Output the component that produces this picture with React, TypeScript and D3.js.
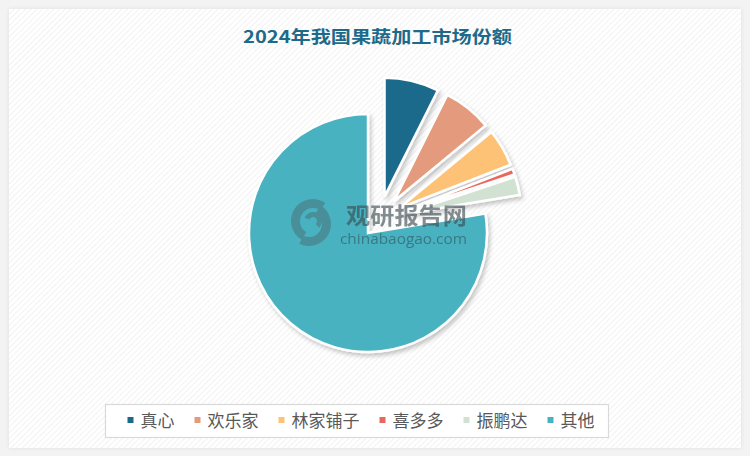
import React from 'react';
import * as d3 from 'd3';

const names = ['真心', '欢乐家', '林家铺子', '喜多多', '振鹏达', '其他'];
const shares = [7.4, 6.6, 5.1, 0.8, 2.5, 77.6];
const colors = ['#1b6a8b', '#e49a7b', '#fec277', '#e8695b', '#d2e2d2', '#49b2c0'];
const explode = [24, 24, 24, 24, 24, 17];
const title = '2024年我国果蔬加工市场份额';

const W = 750;
const H = 456;
const FONT = '"Noto Sans CJK SC", "Noto Sans", sans-serif';

export default function App() {
  const cx = 379;
  const cy = 220;
  const r = 119;
  const pie = d3.pie<number>().sort(null).value((d) => d)(shares);
  const arc = d3.arc<d3.PieArcDatum<number>>().innerRadius(0).outerRadius(r);

  // legend layout
  const fs = 17;
  const sq = 6;
  const gapSq = 7;
  const gapItem = 20;
  const widths = names.map((n) => sq + gapSq + n.length * fs);
  const total = widths.reduce((a, b) => a + b, 0) + gapItem * (names.length - 1);
  let lx = 361 - total / 2;
  const legendItems = names.map((n, i) => {
    const x = lx;
    lx += widths[i] + gapItem;
    return { n, x, c: colors[i] };
  });

  const logoArc = d3.arc<any>();

  return (
    <svg
      width={W}
      height={H}
      style={{ position: 'absolute', left: 0, top: 0, display: 'block' }}
      xmlns="http://www.w3.org/2000/svg"
    >
      <defs>
        <pattern id="hatch" width="4" height="4" patternUnits="userSpaceOnUse" patternTransform="rotate(45)">
          <rect width="4" height="4" fill="#ffffff" />
          <line x1="0" y1="0" x2="0" y2="4" stroke="#ededed" strokeWidth="1.4" />
        </pattern>
        <filter id="shadow" x="-20%" y="-20%" width="140%" height="140%">
          <feDropShadow dx="2" dy="3" stdDeviation="2" floodColor="#000" floodOpacity="0.22" />
        </filter>
        <filter id="panelShadow" x="-5%" y="-5%" width="110%" height="110%">
          <feDropShadow dx="0" dy="0" stdDeviation="2" floodColor="#000" floodOpacity="0.08" />
        </filter>
      </defs>
      <rect x={0} y={0} width={W} height={H} fill="#f3f3f3" />
      <rect x={9} y={9} width={732} height={439} fill="url(#hatch)" filter="url(#panelShadow)" />

      <text
        x={377.5}
        y={43}
        textAnchor="middle"
        fontFamily={FONT}
        fontWeight="bold"
        fontSize={17}
        fill="#1d6a8a"
        textLength={269}
        lengthAdjust="spacingAndGlyphs"
      >
        {title}
      </text>

      <g filter="url(#shadow)">
        {pie.map((p, i) => {
          const mid = (p.startAngle + p.endAngle) / 2;
          const dx = Math.sin(mid) * explode[i];
          const dy = -Math.cos(mid) * explode[i];
          return (
            <path
              key={names[i]}
              d={arc(p) || ''}
              transform={`translate(${cx + dx},${cy + dy})`}
              fill={colors[i]}
              stroke="#ffffff"
              strokeWidth={2.5}
              strokeLinejoin="miter"
            />
          );
        })}
      </g>

      {/* watermark */}
      <g opacity={0.62}>
        <g transform="translate(313,221)">
          <path
            d={logoArc({ innerRadius: 13, outerRadius: 22, startAngle: -2.6, endAngle: 0.6 }) || ''}
            fill="#4a7a84"
          />
          <path
            d={logoArc({ innerRadius: 13, outerRadius: 22, startAngle: 0.55, endAngle: 3.6 }) || ''}
            fill="#4a7a84"
            transform="translate(-4,3)"
          />
          <path
            d={logoArc({ innerRadius: 4, outerRadius: 9, startAngle: -1.2, endAngle: 2.4 }) || ''}
            fill="#4a7a84"
          />
        </g>
        <text
          x={346}
          y={224}
          fontFamily={FONT}
          fontWeight="bold"
          fontSize={23}
          fill="#3a4a50"
          textLength={121}
          lengthAdjust="spacingAndGlyphs"
        >
          观研报告网
        </text>
        <text
          x={340}
          y={244}
          fontFamily='"Open Sans", "DejaVu Sans", sans-serif'
          fontSize={14}
          fill="#2f5560"
          textLength={127}
          lengthAdjust="spacingAndGlyphs"
        >
          chinabaogao.com
        </text>
      </g>

      <rect x={105.5} y={404.5} width={503} height={33} fill="#ffffff" stroke="#d9d9d9" strokeWidth={1.2} />
      {legendItems.map((it) => (
        <g key={it.n}>
          <rect x={it.x} y={417} width={sq} height={sq} fill={it.c} />
          <text
            x={it.x + sq + gapSq}
            y={426.5}
            fontFamily={FONT}
            fontSize={fs}
            fill="#595959"
          >
            {it.n}
          </text>
        </g>
      ))}
    </svg>
  );
}
